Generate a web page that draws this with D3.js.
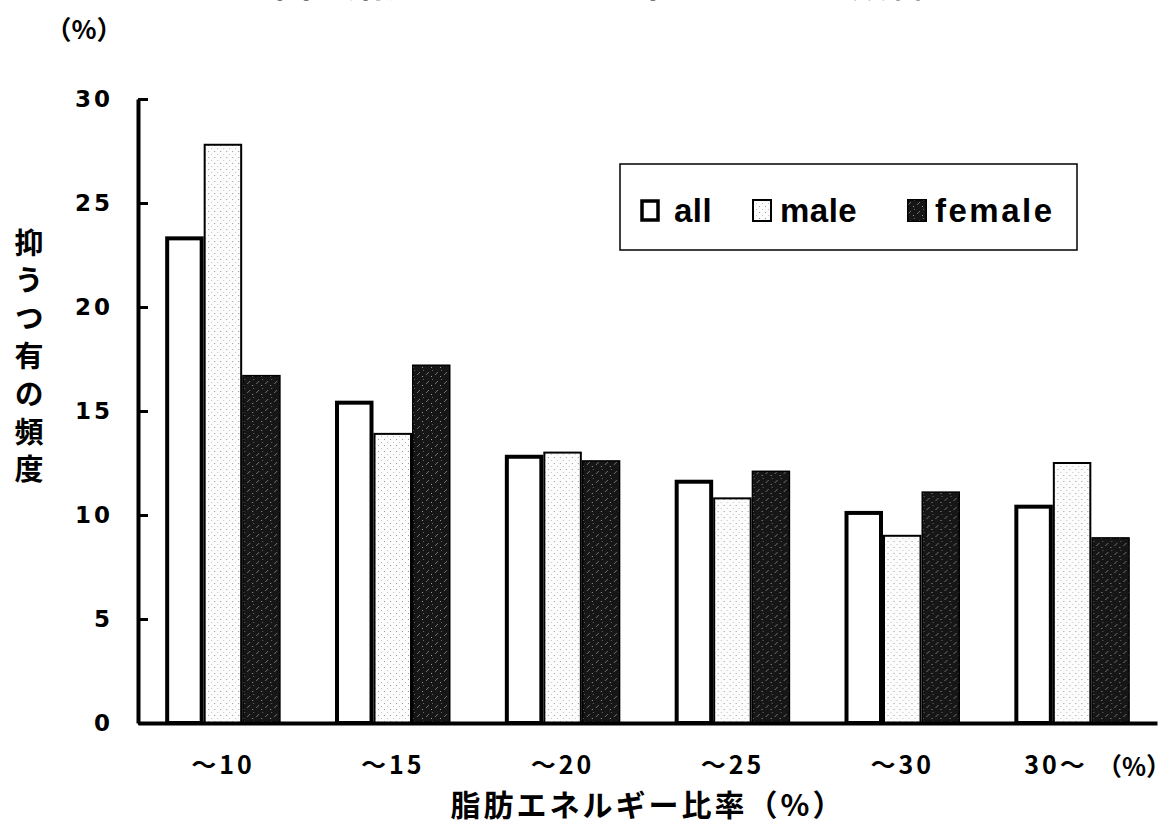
<!DOCTYPE html>
<html>
<head>
<meta charset="utf-8">
<script src="https://cdnjs.cloudflare.com/ajax/libs/d3/7.8.5/d3.min.js"></script>
<style>
  body { margin: 0; background: #fff; }
  svg { display: block; }
  .jp { font-family: "Noto Sans CJK JP", sans-serif; font-weight: 700; fill: #000; }
  .num { font-family: "DejaVu Sans", sans-serif; font-weight: 700; }
  .leg { font-family: "Liberation Sans", Arial, sans-serif; font-weight: 700; }
</style>
</head>
<body>
<div id="viz"></div>
<script>
var categories = ["～10", "～15", "～20", "～25", "～30", "30～"];
var series = ["all", "male", "female"];
var allValues = [23.3, 15.4, 12.8, 11.6, 10.1, 10.4];
var maleValues = [27.8, 13.9, 13.0, 10.8, 9.0, 12.5];
var femaleValues = [16.7, 17.2, 12.6, 12.1, 11.1, 8.9];
var yTicks = [0, 5, 10, 15, 20, 25, 30];
var yTitle = "抑うつ有の頻度";

var width = 1176,
    height = 826;

var values = { all: allValues, male: maleValues, female: femaleValues };

var svg = d3.select("#viz").append("svg")
    .attr("width", width)
    .attr("height", height);

// fill patterns for the scanned look
var defs = svg.append("defs");

var pm = defs.append("pattern")
    .attr("id", "pat-male")
    .attr("patternUnits", "userSpaceOnUse")
    .attr("width", 6).attr("height", 6);
pm.append("rect").attr("width", 6).attr("height", 6).attr("fill", "#fcfcfc");
pm.append("rect").attr("x", 1).attr("y", 1).attr("width", 1).attr("height", 1).attr("fill", "#999");
pm.append("rect").attr("x", 4).attr("y", 4).attr("width", 1).attr("height", 1).attr("fill", "#c4c4c4");

var pf = defs.append("pattern")
    .attr("id", "pat-female")
    .attr("patternUnits", "userSpaceOnUse")
    .attr("width", 9).attr("height", 9);
pf.append("rect").attr("width", 9).attr("height", 9).attr("fill", "#161616");
pf.append("path").attr("d", "M1,6 L4,3").attr("stroke", "#7a7a7a").attr("stroke-width", 0.9);
pf.append("rect").attr("x", 6).attr("y", 7).attr("width", 1).attr("height", 1).attr("fill", "#999");
pf.append("rect").attr("x", 7).attr("y", 1).attr("width", 1).attr("height", 1).attr("fill", "#666");

var fills = { all: "#fff", male: "url(#pat-male)", female: "url(#pat-female)" };
var strokes = { all: 4, male: 2, female: 1.5 };

var x0 = d3.scaleBand()
    .domain(categories)
    .range([138, 1157])
    .paddingInner(0.32)
    .paddingOuter(0.16);

var x1 = d3.scaleBand()
    .domain(series)
    .range([0, x0.bandwidth()]);

var y = d3.scaleLinear()
    .domain([0, 30])
    .range([723, 99]);

// bars
var groups = svg.selectAll("g.grp")
    .data(categories)
  .enter().append("g")
    .attr("class", "grp")
    .attr("transform", function(d) { return "translate(" + x0(d) + ",0)"; });

groups.selectAll("rect")
    .data(function(d, i) { return series.map(function(s) { return { s: s, v: values[s][i] }; }); })
  .enter().append("rect")
    .attr("x", function(d) { return x1(d.s) + strokes[d.s] / 2; })
    .attr("width", function(d) { return x1.bandwidth() - strokes[d.s]; })
    .attr("y", function(d) { return y(d.v); })
    .attr("height", function(d) { return y(0) - y(d.v); })
    .attr("fill", function(d) { return fills[d.s]; })
    .attr("stroke", "#000")
    .attr("stroke-width", function(d) { return strokes[d.s]; });

// y axis
var yAxis = svg.append("g")
    .attr("transform", "translate(138,0)")
    .call(d3.axisLeft(y).tickValues(yTicks).tickSize(-10).tickSizeOuter(0).tickPadding(28));
yAxis.select(".domain").attr("stroke", "#000").attr("stroke-width", 4);
yAxis.selectAll(".tick line").attr("stroke", "#000").attr("stroke-width", 3);
yAxis.selectAll(".tick text")
    .attr("class", "num")
    .attr("font-size", 23)
    .attr("letter-spacing", 3)
    .attr("dx", 3)
    .attr("fill", "#000");

// x axis
var xAxis = svg.append("g")
    .attr("transform", "translate(0,723)")
    .call(d3.axisBottom(x0).tickSize(0).tickPadding(33));
xAxis.select(".domain").attr("stroke", "#000").attr("stroke-width", 4);
xAxis.selectAll(".tick text")
    .attr("class", "jp")
    .attr("font-size", 25)
    .attr("letter-spacing", 3)
    .attr("dx", function(d, i) { return i === categories.length - 1 ? -16 : 0; });

svg.append("text")
    .attr("class", "jp")
    .attr("x", 1134).attr("y", 776)
    .attr("text-anchor", "middle")
    .attr("font-size", 25)
    .text("（%）");

// axis titles
svg.append("text")
    .attr("class", "jp")
    .attr("x", 648).attr("y", 816)
    .attr("text-anchor", "middle")
    .attr("font-size", 30)
    .attr("letter-spacing", 3)
    .text("脂肪エネルギー比率（%）");

svg.append("text")
    .attr("class", "jp")
    .attr("x", 29)
    .attr("y", 228)
    .attr("font-size", 29)
    .attr("letter-spacing", 8.8)
    .style("writing-mode", "vertical-rl")
    .style("text-orientation", "upright")
    .text(yTitle);

svg.append("text")
    .attr("class", "jp")
    .attr("x", 84).attr("y", 39)
    .attr("text-anchor", "middle")
    .attr("font-size", 26)
    .text("（%）");

// chart title, cut off at the top edge as in the scan
svg.append("text")
    .attr("class", "jp")
    .attr("x", 599).attr("y", -3)
    .attr("text-anchor", "middle")
    .attr("font-size", 36)
    .text("図　脂肪エネルギー比率と抑うつの頻度");

// legend
var legend = svg.append("g");
legend.append("rect")
    .attr("x", 620).attr("y", 164)
    .attr("width", 457).attr("height", 86)
    .attr("fill", "#fff")
    .attr("stroke", "#000")
    .attr("stroke-width", 1.5);

var legX = { all: 640, male: 752, female: 907 };
var li = legend.selectAll("g.li")
    .data(series)
  .enter().append("g")
    .attr("class", "li")
    .attr("transform", function(d) { return "translate(" + legX[d] + ",199)"; });

li.append("rect")
    .attr("x", function(d) { return strokes[d] / 2; })
    .attr("y", function(d) { return strokes[d] / 2; })
    .attr("width", function(d) { return 20 - strokes[d]; })
    .attr("height", function(d) { return 23 - strokes[d]; })
    .attr("fill", function(d) { return fills[d]; })
    .attr("stroke", "#000")
    .attr("stroke-width", function(d) { return d === "all" ? 3.5 : strokes[d]; });

li.append("text")
    .attr("class", "leg")
    .attr("x", function(d) { return d === "all" ? 34 : 28; })
    .attr("y", 23)
    .attr("font-size", 33)
    .attr("letter-spacing", function(d) { return d === "female" ? 2.5 : 0.5; })
    .text(function(d) { return d; });
</script>
</body>
</html>
